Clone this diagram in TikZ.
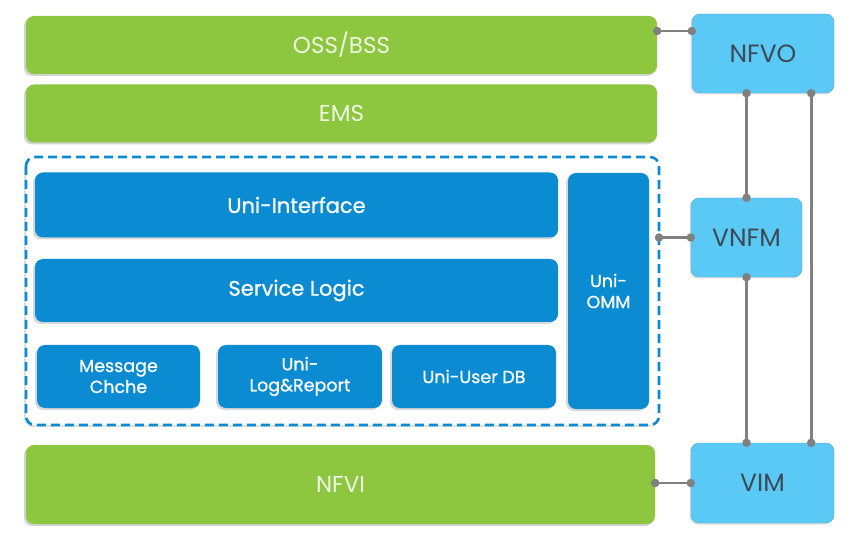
\documentclass[tikz,border=0pt]{standalone}
\usepackage{fontspec}
\setmainfont{Poppins}
\newfontfamily\medfont{Poppins}[FakeBold=0.8]
\usetikzlibrary{shadows}

\definecolor{layergreen}{HTML}{8DC63F}
\definecolor{layertext}{HTML}{EEF7E2}
\definecolor{vnfblue}{HTML}{0A8BD2}
\definecolor{manoblue}{HTML}{5BC9F5}
\definecolor{linkgray}{HTML}{808080}
\definecolor{manotext}{HTML}{3C4A55}

\tikzset{
  layer/.style={rounded corners=8pt, fill=layergreen, text=layertext,
    drop shadow={shadow xshift=-2pt, shadow yshift=-2pt, opacity=.35},
    font=\fontsize{23}{26}\selectfont},
  module/.style={rounded corners=8pt, fill=vnfblue, text=white, align=center,
    drop shadow={shadow xshift=-2pt, shadow yshift=-2pt, opacity=.3}},
  mano/.style={rounded corners=8pt, fill=manoblue, text=manotext,
    draw=manoblue!85!black, line width=.4pt,
    drop shadow={shadow xshift=-1.5pt, shadow yshift=-1.5pt, opacity=.25},
    font=\fontsize{25}{28}\selectfont},
  link/.style={draw=linkgray, line width=2.6pt},
  dot/.style={circle, fill=linkgray, inner sep=0pt, minimum size=8.5pt}
}

\begin{document}
\begin{tikzpicture}[x=1pt, y=-1pt]
\useasboundingbox (0,0) rectangle (865,545);

% green layers
\node[layer, minimum width=631pt, minimum height=58pt] (oss) at (341.5,45) {OSS/BSS};
\node[layer, minimum width=631pt, minimum height=58pt] (ems) at (341.5,113.5) {EMS};
\node[layer, minimum width=629pt, minimum height=79pt] (nfvi) at (340.5,484.5) {NFVI};

% VNF frame
\draw[vnfblue, fill=white, line width=2.6pt, dash pattern=on 9pt off 5pt, rounded corners=9pt,
  drop shadow={shadow xshift=-2pt, shadow yshift=-2pt, opacity=.25}]
  (26,157) rectangle (659,425);
\coordinate (vnf) at (659,291);

% modules
\begin{scope}[font=\medfont\fontsize{21}{24}\selectfont]
\node[module, minimum width=523pt, minimum height=65pt] (iface) at (296.5,205) {Uni-Interface};
\node[module, minimum width=523pt, minimum height=63pt] (logic) at (296.5,290.5) {Service Logic};
\end{scope}
\begin{scope}[font=\medfont\fontsize{17.5}{21}\selectfont]
\node[module, minimum width=163pt, minimum height=63pt] (cache) at (118.5,376.5) {Message\\Chche};
\node[module, minimum width=164pt, minimum height=63pt] (report) at (300,376.5) {Uni-\\Log\&Report};
\node[module, minimum width=164pt, minimum height=63pt] (userdb) at (474,376.5) {Uni-User DB};
\node[module, minimum width=81pt, minimum height=236pt] (omm) at (608.5,291) {Uni-\\OMM};
\end{scope}

% MANO
\node[mano, minimum width=142pt, minimum height=79pt] (nfvo) at (763,53.5) {NFVO};
\node[mano, minimum width=111pt, minimum height=79pt] (vnfm) at (746.5,237.5) {VNFM};
\node[mano, minimum width=143pt, minimum height=80pt] (vim) at (762.5,483) {VIM};

% reference points
\draw[link] ([yshift=14pt]oss.east) -- ([yshift=14pt]oss.east -| nfvo.west)
  node[dot, pos=0]{} node[dot, pos=1]{};
\draw[link] (vnfm.west -| vnf) -- (vnfm.west)
  node[dot, pos=0]{} node[dot, pos=1]{};
\draw[link] (vim.west -| nfvi.east) -- (vim.west)
  node[dot, pos=0]{} node[dot, pos=1]{};
\draw[link] (nfvo.south -| vnfm.south) -- (vnfm.north)
  node[dot, pos=0]{} node[dot, pos=1]{};
\draw[link] (vnfm.south) -- (vnfm.south |- vim.north)
  node[dot, pos=0]{} node[dot, pos=1]{};
\draw[link] ([xshift=-23pt]nfvo.south east) -- ([xshift=-23pt]nfvo.south east |- vim.north)
  node[dot, pos=0]{} node[dot, pos=1]{};
\end{tikzpicture}
\end{document}
